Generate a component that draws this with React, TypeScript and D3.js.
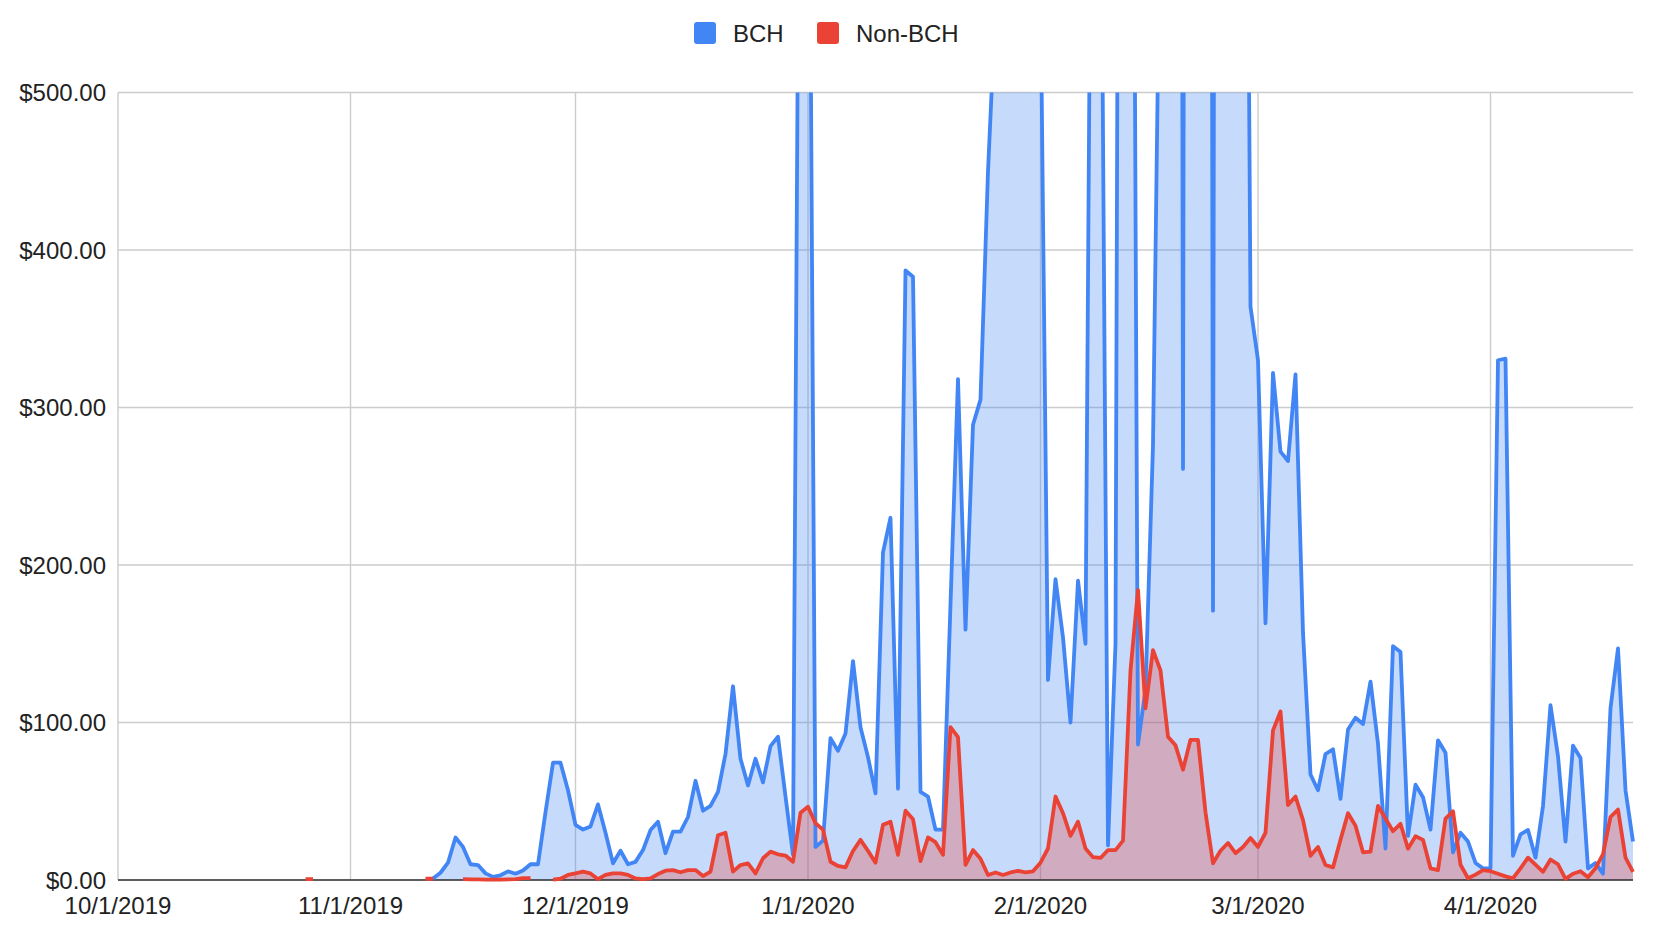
import React from "react";
import * as d3 from "d3";

const N = null;

// Day-by-day values, 10/1/2019 .. 4/20/2020 (null = no data)
const bchOct = [N, N, N, N, N, N, N, N, N, N, N, N, N, N, N, N, N, N, N, N, N, N, N, N, N, N, N, N, N, N, N];
const bchNov = [N, N, N, N, N, N, N, N, N, N, N, 1, 4.6, 11, 27, 21, 10, 9.5, 4.2, 2, 3, 5.5, 4, 6, 10, 10, 43, 74.5, 74.5, 57];
const bchDec = [35, 32, 34, 48, 30, 10.6, 18.6, 10, 11.5, 19, 31.7, 37, 17, 30.7, 30.7, 40, 63, 44, 47, 56, 80, 123, 77, 60, 77, 62, 85, 91, 53, 16, 820];
const bchJan = [820, 21, 25, 90, 82, 93, 139, 97, 78, 55, 208, 230, 58, 387, 383, 56, 53, 32, 32, 175, 318, 159, 289, 305, 450, 555, 1500, 2500, 3000, 2500, 2000];
const bchFeb = [570, 127, 191, 154, 100, 190, 150, 840, 700, 22, 150, 1600, 1120, 86, 121, 276, 640, 3000, 3000, 261, 3000, 3000, 3000, 171, 3000, 3000, 2000, 1100, 364];
const bchMar = [330, 163, 322, 272, 266, 321, 157, 67, 57, 80, 83, 51.5, 95.5, 103, 99, 126, 86.5, 20, 148.5, 144.7, 28, 60.5, 52.6, 32, 88.7, 80.8, 17.6, 30, 24.4, 10.8, 7.4];
const bchApr = [7.4, 330, 331, 15.4, 29, 31.8, 14.2, 47, 111, 78.6, 24.4, 85.3, 77.4, 7.4, 10.8, 4, 109, 147, 57, 24.4];

const nonOct = [N, N, N, N, N, N, N, N, N, N, N, N, N, N, N, N, N, N, N, N, N, N, N, N, N, 0.5, 0.5, N, N, N, N];
const nonNov = [N, N, N, N, N, N, N, N, N, N, 0.8, 0.8, N, N, N, 0.5, 0.4, 0.4, 0.3, 0.3, 0.3, 0.4, 0.5, 1.2, 1.2, N, N, 0.3, 0.8, 3.2];
const nonDec = [4.2, 5.3, 4.2, 0.5, 3.2, 4.2, 4.2, 3.2, 1, 0.5, 1, 3.8, 5.9, 6.3, 4.9, 6.3, 6.3, 2.5, 5.3, 28.4, 30, 5.3, 9.5, 10.6, 4.2, 13.8, 18, 16.3, 15.5, 11.6, 42.7];
const nonJan = [46.5, 36, 32, 11.6, 8.9, 8, 18.4, 25.5, 18.5, 11, 35, 37, 16, 44, 38.6, 12, 27, 24, 16, 97, 90.7, 9.6, 19, 13.5, 3.2, 4.8, 3.2, 4.8, 5.8, 4.8, 5.5];
const nonFeb = [11, 20, 53, 42.4, 28, 37, 20, 14.5, 14, 19, 19, 25, 133, 184, 109, 146, 133, 91, 85.5, 70, 89, 89, 43, 10.6, 18.6, 23.5, 17, 21, 26.7];
const nonMar = [21, 30, 95, 107, 47.6, 53, 38, 15.4, 21, 9.5, 8, 25.5, 42.4, 34.5, 17.6, 18, 47, 39, 31, 35.7, 19.9, 27.8, 25.5, 7.4, 6.3, 39, 43.6, 9.7, 1.1, 3.4, 6.3];
const nonApr = [5.6, 4, 2.3, 1.1, 7.4, 14.2, 9.7, 5.2, 13, 10, 0.7, 4, 5.6, 1.8, 7.4, 16.5, 40, 44.7, 14.2, 5.2];

const bch = [...bchOct, ...bchNov, ...bchDec, ...bchJan, ...bchFeb, ...bchMar, ...bchApr];
const nonBch = [...nonOct, ...nonNov, ...nonDec, ...nonJan, ...nonFeb, ...nonMar, ...nonApr];

const startDate = "10/1/2019";
const xTickLabels = ["10/1/2019", "11/1/2019", "12/1/2019", "1/1/2020", "2/1/2020", "3/1/2020", "4/1/2020"];
const yTicks = [0, 100, 200, 300, 400, 500];
const seriesNames = ["BCH", "Non-BCH"];
const seriesColors = ["#4285F4", "#EA4335"];

const W = 1668;
const H = 946;
const M = { left: 118, right: 1633, top: 92.5, bottom: 880 };
const FONT = "'Liberation Sans', Arial, sans-serif";

const parse = d3.utcParse("%m/%d/%Y");

export default function App() {
  const t0 = parse(startDate) as Date;
  const dateOf = (i: number) => d3.utcDay.offset(t0, i);
  const nDays = bch.length;

  const x = d3.scaleUtc().domain([t0, dateOf(nDays - 1)]).range([M.left, M.right]);
  const y = d3.scaleLinear().domain([0, 500]).range([M.bottom, M.top]);

  const series = [bch, nonBch].map((vals) =>
    vals.map((v, i) => ({ date: dateOf(i), v }))
  );

  type P = { date: Date; v: number | null };
  const area = d3
    .area<P>()
    .defined((d) => d.v != null)
    .x((d) => x(d.date))
    .y0(y(0))
    .y1((d) => y(d.v as number));
  const line = d3
    .line<P>()
    .defined((d) => d.v != null)
    .x((d) => x(d.date))
    .y((d) => y(d.v as number));

  const tickDates = xTickLabels.map((l) => parse(l) as Date);

  const legendItems = [
    { name: seriesNames[0], color: seriesColors[0], sx: 694, tx: 733 },
    { name: seriesNames[1], color: seriesColors[1], sx: 817, tx: 856 },
  ];

  return (
    <svg
      width={W}
      height={H}
      style={{ position: "absolute", left: 0, top: 0, background: "#fff" }}
      fontFamily={FONT}
    >
      <defs>
        <clipPath id="plotClip">
          <rect x={M.left} y={M.top} width={M.right - M.left + 2} height={M.bottom - M.top + 2} />
        </clipPath>
      </defs>
      <rect x={0} y={0} width={W} height={H} fill="#fff" />

      {yTicks.map((t) => (
        <line key={"h" + t} x1={M.left} x2={M.right} y1={y(t)} y2={y(t)} stroke="#cccccc" strokeWidth={1.4} />
      ))}
      {tickDates.map((d, i) => (
        <line key={"v" + i} x1={x(d)} x2={x(d)} y1={M.top} y2={M.bottom} stroke="#cccccc" strokeWidth={1.4} />
      ))}

      <g clipPath="url(#plotClip)">
        {series.map((s, i) => (
          <path key={"a" + i} d={area(s as P[]) || ""} fill={seriesColors[i]} fillOpacity={0.3} stroke="none" />
        ))}
      </g>

      <line x1={M.left} x2={M.right} y1={y(0)} y2={y(0)} stroke="#333333" strokeWidth={1.5} />

      <g clipPath="url(#plotClip)">
        {series.map((s, i) => (
          <path
            key={"l" + i}
            d={line(s as P[]) || ""}
            fill="none"
            stroke={seriesColors[i]}
            strokeWidth={3.8}
            strokeLinejoin="round"
          />
        ))}
      </g>

      {yTicks.map((t) => (
        <text
          key={"yl" + t}
          x={106}
          y={y(t)}
          textAnchor="end"
          dominantBaseline="central"
          fontSize={24}
          fill="#222"
        >
          {d3.format("$,.2f")(t)}
        </text>
      ))}

      {tickDates.map((d, i) => (
        <text
          key={"xl" + i}
          x={x(d)}
          y={905}
          textAnchor="middle"
          dominantBaseline="central"
          fontSize={24}
          fill="#222"
        >
          {xTickLabels[i]}
        </text>
      ))}

      {legendItems.map((it) => (
        <g key={it.name}>
          <rect x={it.sx} y={22} width={22} height={22} rx={3} fill={it.color} />
          <text x={it.tx} y={33} dominantBaseline="central" fontSize={24} fill="#222">
            {it.name}
          </text>
        </g>
      ))}
    </svg>
  );
}
